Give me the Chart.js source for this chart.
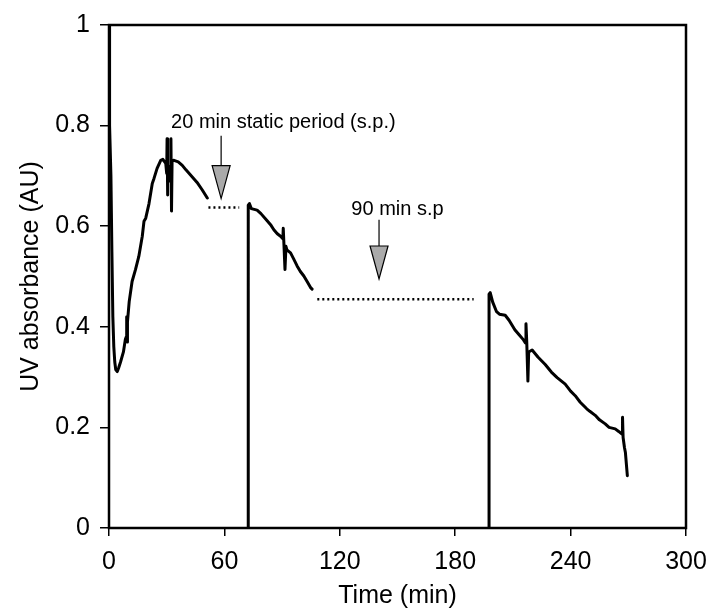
<!DOCTYPE html>
<html>
<head>
<meta charset="utf-8">
<script src="https://cdn.jsdelivr.net/npm/chart.js@4.4.0/dist/chart.umd.min.js"></script>
<style>
  body { margin: 0; background: #fff; }
  #wrap { width: 709px; height: 611px; }
</style>
</head>
<body>
<div id="wrap"><canvas id="uv"></canvas></div>
<script>
// trace before the first static period
const time1 = [0, 0.3, 1, 1.5, 2, 2.5, 3, 3.5, 4.3, 5, 6, 7.5, 8.5, 9, 9.2, 9.4, 9.6, 10.5, 12, 13.8, 15.5, 17.3, 18.2, 19.1,
  20.8, 22.5, 23.4, 25, 26.9, 28, 29.5, 30, 30.2, 30.4, 30.6, 31, 31.5, 32, 32.2, 32.5, 32.8, 33.8, 36, 38.1, 40, 43.3, 45.8, 48.5, 51.1];
const abs1 = [1.0, 0.8, 0.7, 0.55, 0.42, 0.36, 0.33, 0.315, 0.311, 0.318, 0.33, 0.35, 0.375, 0.38, 0.42, 0.37, 0.41, 0.45, 0.49, 0.514, 0.54, 0.58, 0.61, 0.616,
  0.645, 0.685, 0.695, 0.715, 0.731, 0.733, 0.725, 0.705, 0.774, 0.662, 0.72, 0.70, 0.69, 0.72, 0.774, 0.63, 0.73, 0.731, 0.728, 0.721, 0.712, 0.698, 0.687, 0.672, 0.656];

// after the 20 min static period
const time2 = [72.4, 72.4, 73, 74, 77, 79, 82, 84, 85.7, 87.5, 89.2, 90.4, 90.6, 91, 91.5, 92, 92.5, 94.4, 96, 97.8, 99.5, 101.3, 103, 104.8, 105.6];
const abs2 = [0, 0.642, 0.645, 0.635, 0.632, 0.625, 0.612, 0.603, 0.593, 0.585, 0.58, 0.575, 0.596, 0.56, 0.514, 0.56, 0.553, 0.547, 0.535, 0.521, 0.51, 0.501, 0.49, 0.478, 0.475];

// after the 90 min static period
const time3 = [197.6, 197.6, 198.2, 199.5, 201.5, 203, 206, 208, 211, 213, 215.5, 216.5, 216.8, 217.2, 217.8, 218.2, 220, 223, 226.8, 230, 233, 237.2, 240,
  242.4, 245, 248.4, 250, 252.8, 255, 258, 260, 263.2, 265, 266.9, 267, 267.3, 268, 268.5, 269.5];
const abs3 = [0, 0.465, 0.468, 0.449, 0.43, 0.425, 0.423, 0.413, 0.394, 0.385, 0.374, 0.368, 0.406, 0.37, 0.292, 0.35, 0.354, 0.34, 0.325, 0.31, 0.299, 0.286, 0.272,
  0.263, 0.25, 0.237, 0.232, 0.224, 0.215, 0.207, 0.2, 0.197, 0.192, 0.186, 0.22, 0.18, 0.16, 0.15, 0.104];

// static periods (dotted)
const staticTime1 = [51.7, 67.7];
const staticAbs1 = [0.637, 0.637];
const staticTime2 = [108.3, 189.6];
const staticAbs2 = [0.455, 0.455];

const xTicks = [0, 60, 120, 180, 240, 300];
const yTicks = [0, 0.2, 0.4, 0.6, 0.8, 1];

// annotation labels: text, text start (t, v), arrow x, arrow top v, arrow tip v
const notes = [
  { text: '20 min static period (s.p.)', t: 32.3, v: 0.795, at: 58.3, top: 0.78, tip: 0.655 },
  { text: '90 min s.p', t: 126, v: 0.622, at: 140.4, top: 0.613, tip: 0.495 }
];

const pts = (xs, ys) => xs.map((x, i) => ({ x: x, y: ys[i] }));
const FONT = 'Liberation Sans, Arial, Helvetica, sans-serif';

const boxPlugin = {
  id: 'box',
  afterDraw(chart) {
    const { ctx, chartArea: a } = chart;
    ctx.save();
    ctx.strokeStyle = '#000';
    ctx.lineWidth = 2.5;
    ctx.strokeRect(a.left, a.top, a.right - a.left, a.bottom - a.top);
    ctx.restore();
  }
};

const notesPlugin = {
  id: 'notes',
  afterDraw(chart) {
    const ctx = chart.ctx;
    const xs = chart.scales.x, ys = chart.scales.y;
    ctx.save();
    ctx.font = '20px ' + FONT;
    ctx.textBaseline = 'alphabetic';
    notes.forEach(n => {
      ctx.fillStyle = '#000';
      ctx.fillText(n.text, xs.getPixelForValue(n.t), ys.getPixelForValue(n.v));
      const ax = xs.getPixelForValue(n.at);
      const top = ys.getPixelForValue(n.top);
      const tip = ys.getPixelForValue(n.tip);
      const headTop = tip - 33;
      ctx.strokeStyle = '#000';
      ctx.lineWidth = 1.2;
      ctx.beginPath();
      ctx.moveTo(ax, top);
      ctx.lineTo(ax, headTop);
      ctx.stroke();
      ctx.beginPath();
      ctx.moveTo(ax - 9, headTop);
      ctx.lineTo(ax + 9, headTop);
      ctx.lineTo(ax, tip);
      ctx.closePath();
      ctx.fillStyle = '#aaa';
      ctx.fill();
      ctx.stroke();
    });
    ctx.restore();
  }
};

const solid = {
  showLine: true, borderColor: '#000', borderWidth: 3, pointRadius: 0,
  borderJoinStyle: 'round', borderCapStyle: 'round', tension: 0
};
const dotted = {
  showLine: true, borderColor: '#000', borderWidth: 2.5, pointRadius: 0, borderDash: [2, 3]
};

new Chart(document.getElementById('uv'), {
  type: 'scatter',
  data: {
    datasets: [
      Object.assign({ data: pts(time1, abs1) }, solid),
      Object.assign({ data: pts(time2, abs2) }, solid),
      Object.assign({ data: pts(time3, abs3) }, solid),
      Object.assign({ data: pts(staticTime1, staticAbs1) }, dotted),
      Object.assign({ data: pts(staticTime2, staticAbs2) }, dotted)
    ]
  },
  options: {
    responsive: true,
    maintainAspectRatio: false,
    animation: false,
    layout: { padding: { top: 20, right: 23, left: 0, bottom: 0 } },
    plugins: {
      legend: { display: false },
      tooltip: { enabled: false }
    },
    scales: {
      x: {
        type: 'linear',
        min: 0,
        max: 300,
        afterBuildTicks: s => { s.ticks = xTicks.map(v => ({ value: v })); },
        afterFit: s => { s.height = 83; s.paddingLeft = 0; s.paddingRight = 0; },
        grid: { drawOnChartArea: false, drawTicks: true, tickLength: 8, color: '#000', lineWidth: 1.5 },
        border: { display: false },
        ticks: { color: '#000', padding: 11, font: { family: FONT, size: 25 } },
        title: { display: true, text: 'Time (min)', color: '#000', padding: { top: 0, bottom: 0 }, font: { family: FONT, size: 25 } }
      },
      y: {
        type: 'linear',
        min: 0,
        max: 1,
        afterBuildTicks: s => { s.ticks = yTicks.map(v => ({ value: v })); },
        afterFit: s => { s.width = 109; },
        grid: { drawOnChartArea: false, drawTicks: true, tickLength: 9, color: '#000', lineWidth: 1.5 },
        border: { display: false },
        ticks: { color: '#000', padding: 10, font: { family: FONT, size: 25 }, callback: v => String(+v.toFixed(1)) },
        title: { display: true, text: 'UV absorbance (AU)', color: '#000', padding: { top: 16, bottom: 0 }, font: { family: FONT, size: 25 } }
      }
    }
  },
  plugins: [boxPlugin, notesPlugin]
});
</script>
</body>
</html>
